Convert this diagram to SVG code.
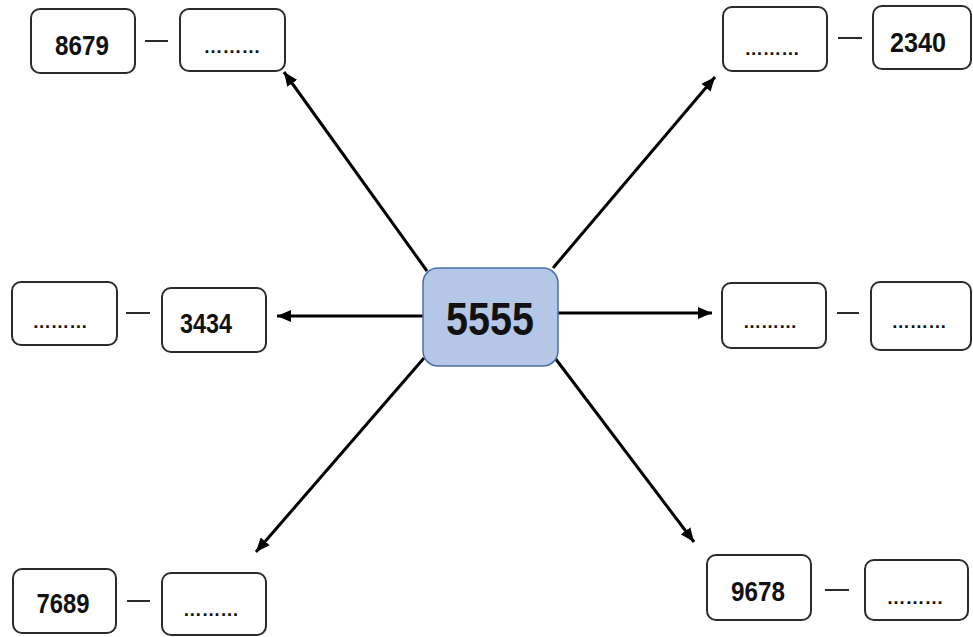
<svg xmlns="http://www.w3.org/2000/svg" width="973" height="637" viewBox="0 0 973 637">
<style>
.box{fill:#fff;stroke:#2b2b2b;stroke-width:2}
.num{font-family:"Liberation Sans",Arial,sans-serif;font-weight:bold;font-size:27px;fill:#111;text-anchor:middle}
.dots{font-family:"Liberation Sans",Arial,sans-serif;font-weight:bold;font-size:18px;fill:#111;text-anchor:middle}
.dash{stroke:#2b2b2b;stroke-width:2}
.conn{stroke:#000;stroke-width:3;fill:none;marker-end:url(#ah)}
</style>
<defs>
<marker id="ah" markerUnits="userSpaceOnUse" markerWidth="14" markerHeight="12" refX="14" refY="6" orient="auto">
<path d="M0,0 L14,6 L0,12 z" fill="#000"/>
</marker>
</defs>
<rect width="973" height="637" fill="#fff"/>
<g id="connectors">
<line class="conn" x1="427" y1="271" x2="284" y2="72"/>
<line class="conn" x1="553" y1="268" x2="715" y2="77"/>
<line class="conn" x1="423" y1="316" x2="277" y2="316"/>
<line class="conn" x1="558" y1="313" x2="712" y2="313"/>
<line class="conn" x1="424" y1="358" x2="256" y2="552"/>
<line class="conn" x1="555" y1="358" x2="694" y2="542"/>
</g>
<g id="center">
<rect x="423" y="268" width="135" height="98" rx="15" fill="#b4c7e7" stroke="#4a6fa8" stroke-width="1.5"/>
<text x="490" y="335" font-family="'Liberation Sans',Arial,sans-serif" font-weight="bold" font-size="46" fill="#111" text-anchor="middle" textLength="88" lengthAdjust="spacingAndGlyphs">5555</text>
</g>
<g id="top-left">
<rect class="box" x="31" y="9" width="104" height="64" rx="9"/>
<text class="num" x="82" y="55" textLength="54" lengthAdjust="spacingAndGlyphs">8679</text>
<line class="dash" x1="145" y1="41" x2="168" y2="41"/>
<rect class="box" x="180" y="9" width="105" height="62" rx="9"/>
<text class="dots" x="232" y="53" textLength="57" lengthAdjust="spacingAndGlyphs">………</text>
</g>
<g id="top-right">
<rect class="box" x="723" y="7" width="104" height="64" rx="9"/>
<text class="dots" x="772" y="55" textLength="55" lengthAdjust="spacingAndGlyphs">………</text>
<line class="dash" x1="838" y1="38" x2="862" y2="38"/>
<rect class="box" x="873" y="6" width="98" height="63" rx="9"/>
<text class="num" x="918" y="52" textLength="56" lengthAdjust="spacingAndGlyphs">2340</text>
</g>
<g id="middle-left">
<rect class="box" x="12" y="282" width="105" height="63" rx="9"/>
<text class="dots" x="60" y="328" textLength="55" lengthAdjust="spacingAndGlyphs">………</text>
<line class="dash" x1="126" y1="313" x2="150" y2="313"/>
<rect class="box" x="162" y="288" width="104" height="64" rx="9"/>
<text class="num" x="206" y="333" textLength="52" lengthAdjust="spacingAndGlyphs">3434</text>
</g>
<g id="middle-right">
<rect class="box" x="722" y="283" width="104" height="65" rx="9"/>
<text class="dots" x="770" y="328" textLength="54" lengthAdjust="spacingAndGlyphs">………</text>
<line class="dash" x1="837" y1="313" x2="859" y2="313"/>
<rect class="box" x="871" y="282" width="100" height="68" rx="9"/>
<text class="dots" x="919" y="328" textLength="55" lengthAdjust="spacingAndGlyphs">………</text>
</g>
<g id="bottom-left">
<rect class="box" x="13" y="569" width="103" height="64" rx="9"/>
<text class="num" x="63" y="613" textLength="53" lengthAdjust="spacingAndGlyphs">7689</text>
<line class="dash" x1="127" y1="601" x2="150" y2="601"/>
<rect class="box" x="162" y="573" width="104" height="62" rx="9"/>
<text class="dots" x="211" y="616" textLength="56" lengthAdjust="spacingAndGlyphs">………</text>
</g>
<g id="bottom-right">
<rect class="box" x="707" y="555" width="104" height="65" rx="9"/>
<text class="num" x="758" y="601" textLength="54" lengthAdjust="spacingAndGlyphs">9678</text>
<line class="dash" x1="825" y1="590" x2="849" y2="590"/>
<rect class="box" x="865" y="560" width="103" height="60" rx="9"/>
<text class="dots" x="915" y="604" textLength="57" lengthAdjust="spacingAndGlyphs">………</text>
</g>
</svg>
